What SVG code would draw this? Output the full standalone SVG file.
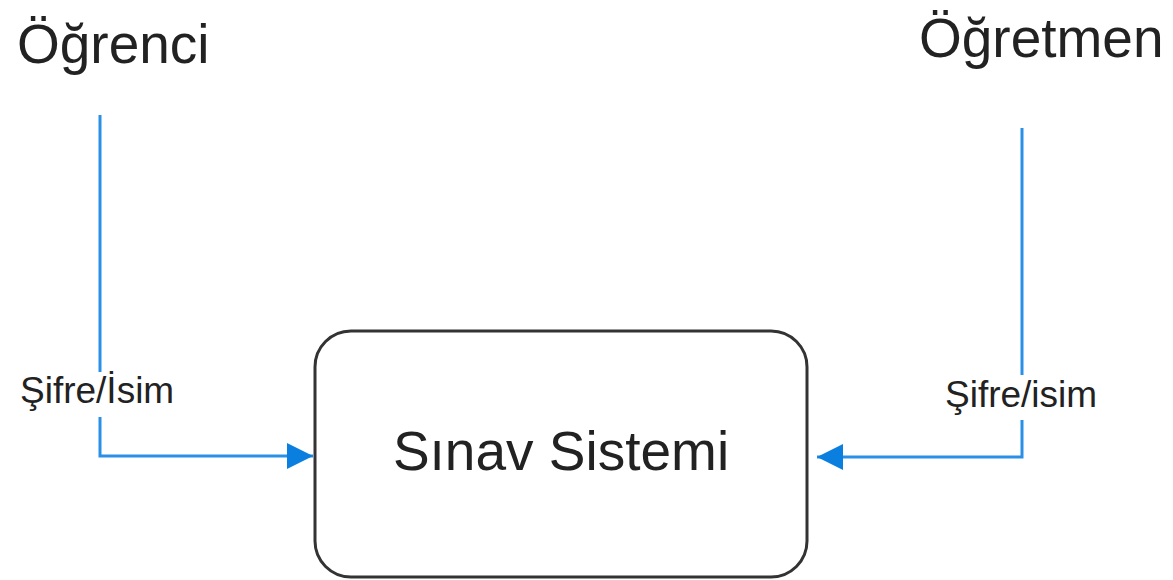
<svg xmlns="http://www.w3.org/2000/svg" width="1173" height="580" viewBox="0 0 1173 580">
<style>
.t{font-family:"Liberation Sans",Arial,sans-serif;fill:#222}
.big{font-size:55px}
.lbl{font-size:37px}
.ln{fill:none;stroke:#2A8FE6;stroke-width:3}
</style>
<defs>
<marker id="ah" viewBox="0 0 10 10" refX="10" refY="5" markerWidth="40" markerHeight="26" markerUnits="userSpaceOnUse" orient="auto">
<path d="M0,0 L10,5 L0,10 Z" fill="#0A7FE0"/>
</marker>
</defs>
<rect width="1173" height="580" fill="#fff"/>
<g id="ogrenci"><text class="t big" x="17" y="63">Öğrenci</text></g>
<g id="ogretmen"><text class="t big" x="919" y="57">Öğretmen</text></g>
<g id="sinav">
<rect x="315" y="331" width="492" height="246" rx="36" ry="36" fill="#fff" stroke="#333" stroke-width="3"/>
<text class="t big" x="561" y="470" text-anchor="middle">Sınav Sistemi</text>
</g>
<g id="connectors">
<path class="ln" d="M100,115 V372 M100,417 V456 H313" marker-end="url(#ah)"/>
<path class="ln" d="M1022,128 V375 M1022,420 V457 H817" marker-end="url(#ah)"/>
<text class="t lbl" x="20" y="403">Şifre/İsim</text>
<text class="t lbl" x="945" y="407">Şifre/isim</text>
</g>
</svg>
